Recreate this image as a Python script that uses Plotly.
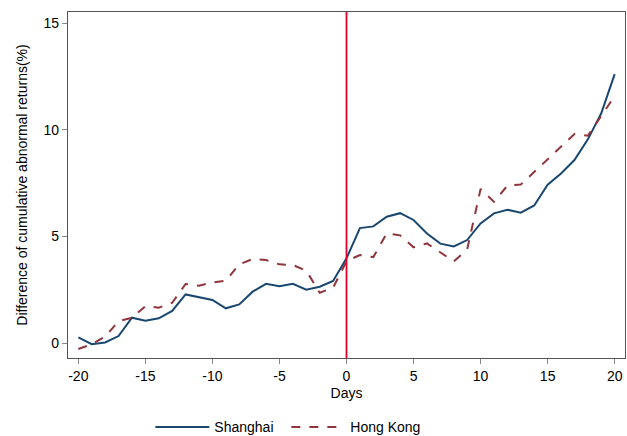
import plotly.graph_objects as go

days = list(range(-20, 21))

shanghai = [0.27, -0.05, 0.03, 0.33, 1.19, 1.05, 1.16, 1.51, 2.28, 2.14,
            2.02, 1.63, 1.81, 2.41, 2.78, 2.66, 2.78, 2.50, 2.64, 2.91,
            3.97, 5.39, 5.47, 5.92, 6.09, 5.77, 5.14, 4.66, 4.53, 4.83,
            5.61, 6.08, 6.25, 6.11, 6.45, 7.42, 7.95, 8.58, 9.55, 10.77,
            12.61]

hong_kong = [-0.28, -0.06, 0.30, 1.03, 1.19, 1.73, 1.66, 1.89, 2.77, 2.69,
             2.84, 2.92, 3.69, 3.94, 3.89, 3.69, 3.66, 3.39, 2.36, 2.59,
             3.84, 4.13, 4.03, 5.14, 5.05, 4.49, 4.67, 4.27, 3.83, 4.39,
             7.22, 6.62, 7.38, 7.43, 8.03, 8.63, 9.22, 9.80, 9.72, 10.66,
             11.58]

x_ticks = [-20, -15, -10, -5, 0, 5, 10, 15, 20]
x_tick_labels = ["-20", "-15", "-10", "-5", "0", "5", "10", "15", "20"]
y_ticks = [0, 5, 10, 15]
y_tick_labels = ["0", "5", "10", "15"]
event_day = 0

fig = go.Figure()
fig.add_trace(go.Scatter(x=days, y=shanghai, mode="lines", name="Shanghai",
                         line=dict(color="#1a476f", width=2)))
fig.add_trace(go.Scatter(x=days, y=hong_kong, mode="lines", name="Hong Kong",
                         line=dict(color="#90353b", width=2, dash="dash")))

# vertical marker at the event day
fig.add_shape(type="line", xref="x", yref="paper", x0=event_day, x1=event_day,
              y0=0, y1=1, line=dict(color="#e4002b", width=1.8))

axis_common = dict(showgrid=False, zeroline=False, showline=True, mirror=True,
                   linecolor="#555555", linewidth=1.3, ticks="outside",
                   ticklen=5, tickcolor="#888888", tickwidth=1.3,
                   automargin=False,
                   tickfont=dict(size=14, color="#000000"))

fig.update_xaxes(range=[-20.77, 20.77], tickvals=x_ticks, ticktext=x_tick_labels,
                 title=dict(text="Days", font=dict(size=14, color="#000000"),
                            standoff=5),
                 **axis_common)
fig.update_yaxes(range=[-0.7, 15.52], tickvals=y_ticks, ticktext=y_tick_labels,
                 title=dict(text="Difference of cumulative abnormal returns(%)",
                            font=dict(size=14, color="#000000"), standoff=12),
                 **axis_common)

fig.update_layout(
    width=627, height=436,
    margin=dict(l=68, r=2, t=12, b=78),
    paper_bgcolor="white", plot_bgcolor="white",
    font=dict(family="Liberation Sans, Arial, sans-serif", size=14, color="#000000"),
    showlegend=True,
    legend=dict(orientation="h", xref="container", yref="container",
                x=0.2398, xanchor="left", y=0.02, yanchor="middle",
                font=dict(size=14), itemwidth=54, entrywidth=67,
                entrywidthmode="pixels", bgcolor="rgba(0,0,0,0)"),
)

fig.write_html("out.html")
